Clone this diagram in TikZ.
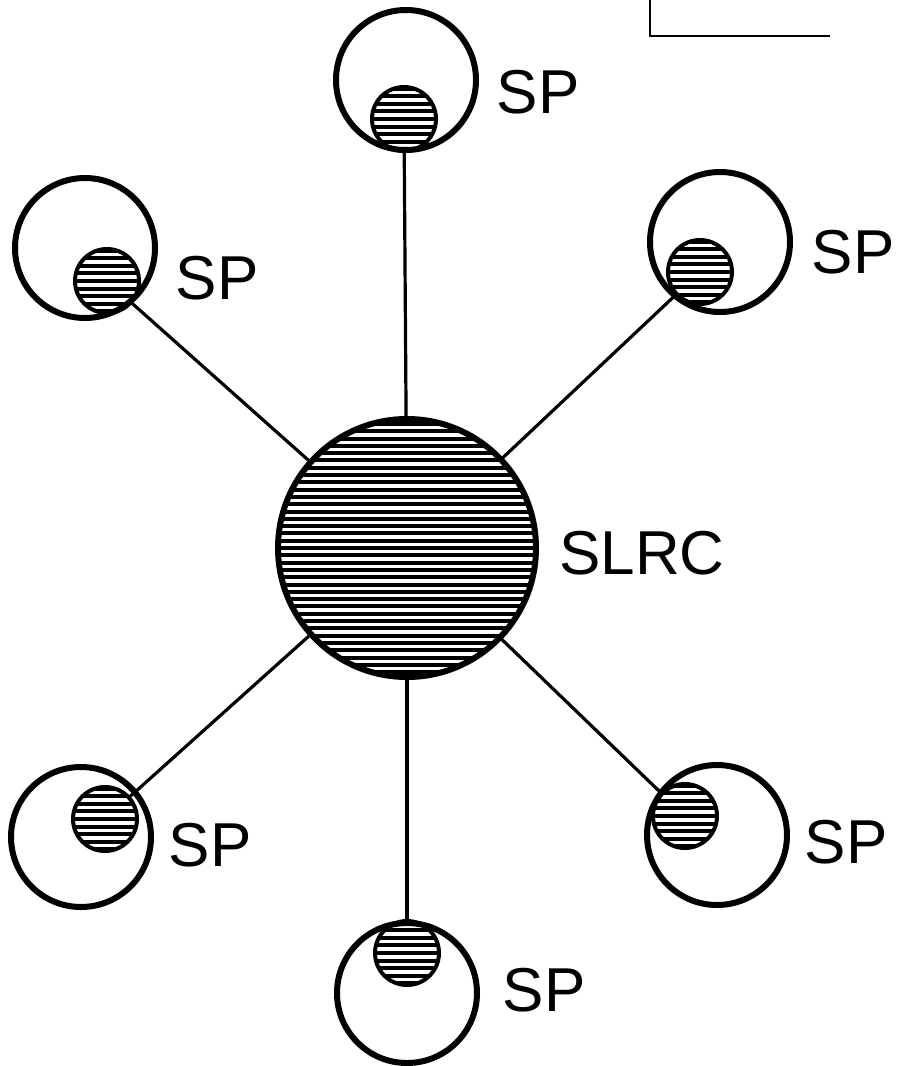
\documentclass[tikz,border=0pt]{standalone}
\usepackage{fontspec}
\setmainfont{Liberation Sans}
\usetikzlibrary{calc}
\tikzset{
  hatchline/.style={line width=4pt},
  hub/.style={circle, draw, line width=6pt, minimum size=258pt, inner sep=0pt,
    path picture={\foreach \k in {-18,...,18}
      \draw[hatchline] ($(path picture bounding box.center)+(-140pt,\k*7.3pt)$) -- ++(280pt,0);}},
  sat/.style={circle, draw, line width=4pt, minimum size=64pt, inner sep=0pt,
    path picture={\foreach \k in {-4,...,4}
      \draw[hatchline] ($(path picture bounding box.center)+(-40pt,\k*7.6pt)$) -- ++(80pt,0);}},
  ring/.style={circle, draw, line width=6pt, minimum size=140pt, inner sep=0pt},
  lbl/.style={inner sep=0pt, font=\fontsize{62}{70}\selectfont},
  link/.style={line width=3.2pt},
  scrap/.style={line width=1.6pt}
}
\begin{document}
\begin{tikzpicture}[x=1pt,y=-1pt]
\useasboundingbox (0,0) rectangle (897,1066);
% hub
\node[hub] (C) at (407,548) {};
\node[lbl] (Clbl) at (642,553) {SLRC};
% outer rings
\node[ring] (oT)  at (406,80)  {};
\node[ring] (oTL) at (85,248)  {};
\node[ring] (oTR) at (720,242) {};
\node[ring] (oBL) at (81,837)  {};
\node[ring] (oBR) at (717,835) {};
\node[ring] (oB)  at (407,993) {};
% inner hatched circles
\node[sat] (iT)  at (404,119) {};
\node[sat] (iTL) at (107,281) {};
\node[sat] (iTR) at (700,272) {};
\node[sat] (iBL) at (105,819) {};
\node[sat] (iBR) at (685,816) {};
\node[sat] (iB)  at (407,953) {};
% labels
\node[lbl] (lT)  at (538,92)  {SP};
\node[lbl] (lTL) at (217,278) {SP};
\node[lbl] (lTR) at (853,252) {SP};
\node[lbl] (lBL) at (210,845) {SP};
\node[lbl] (lBR) at (846,842) {SP};
\node[lbl] (lB)  at (544,990) {SP};
% connectors
\foreach \s in {iT,iTL,iTR,iBL,iBR,iB}
  \draw[link] (\s) -- (C);
% corner fragment at top right
\coordinate (k1) at (650,0);
\coordinate (k2) at (650,36);
\coordinate (k3) at (830,36);
\draw[scrap] (k1) -- (k2) -- (k3);
\end{tikzpicture}
\end{document}
